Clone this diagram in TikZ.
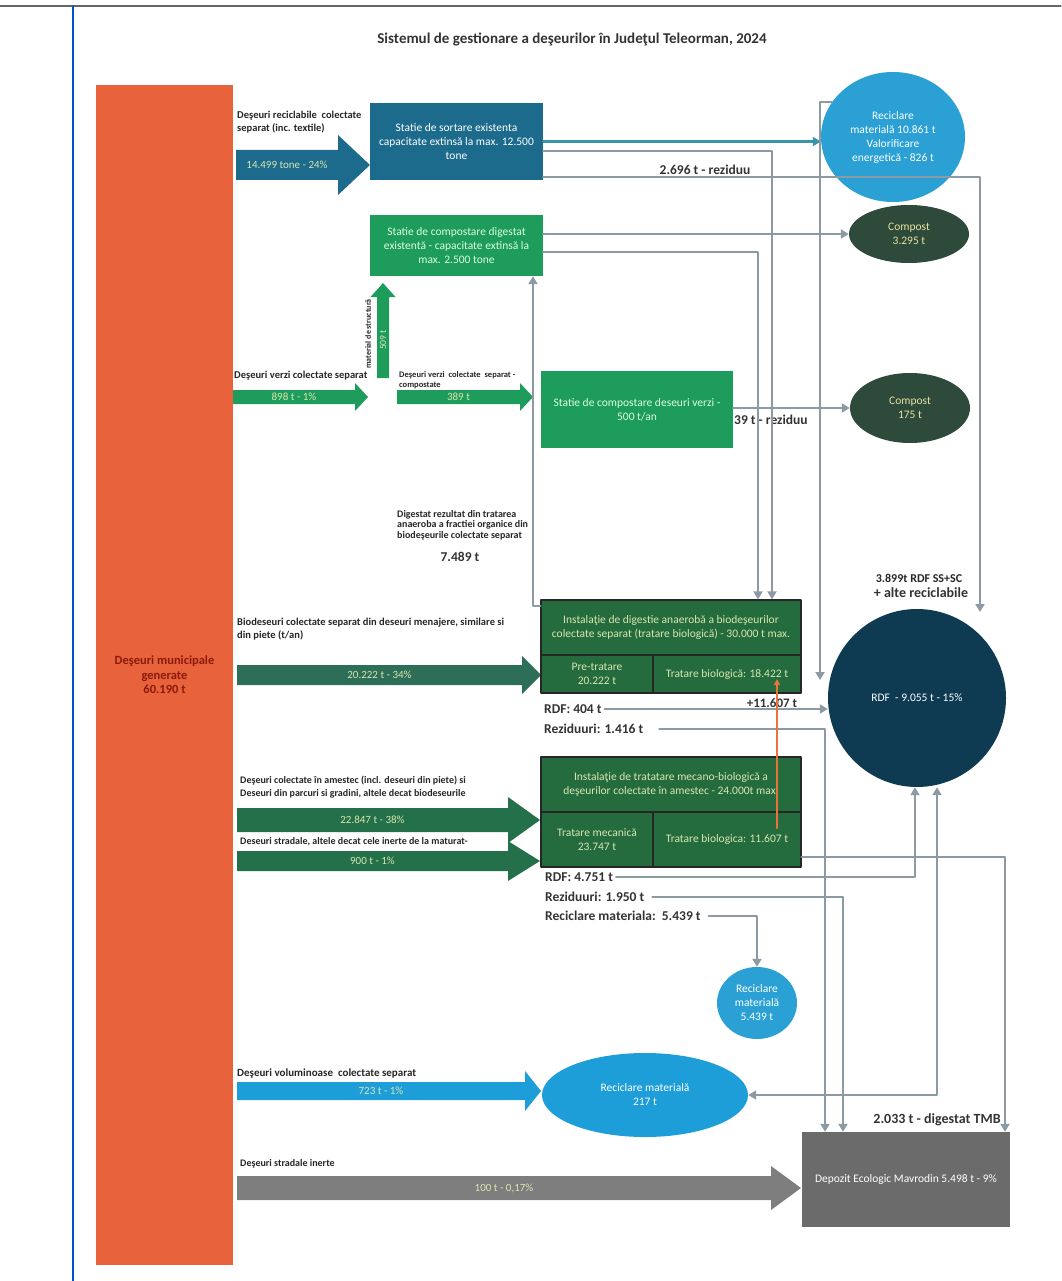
\documentclass[tikz,border=0pt]{standalone}
\usepackage{fontspec}
\setmainfont{Carlito}
\usetikzlibrary{arrows.meta,positioning,shapes.geometric}
\definecolor{munred}{HTML}{E8623C}
\definecolor{muntext}{HTML}{8A1B0B}
\definecolor{sortblue}{HTML}{1C6A8C}
\definecolor{recblue}{HTML}{2AA0D5}
\definecolor{compgreen}{HTML}{1E9C5C}
\definecolor{compdark}{HTML}{2E4A3A}
\definecolor{instgreen}{HTML}{246B3E}
\definecolor{biogreen}{HTML}{2C6E57}
\definecolor{mixgreen}{HTML}{23704A}
\definecolor{rdfnavy}{HTML}{0E3B52}
\definecolor{volblue}{HTML}{1E9ED8}
\definecolor{inertgray}{HTML}{7E7E7E}
\definecolor{depgray}{HTML}{6B6B6B}
\definecolor{linegray}{HTML}{8C9BA3}
\definecolor{tealline}{HTML}{3B94A8}
\definecolor{orangeline}{HTML}{E8743A}
\definecolor{paletext}{HTML}{D8E6B0}
\definecolor{comptext}{HTML}{E8E2A0}
\tikzset{
  lbl/.style={font=\bfseries\fontsize{10.5}{13}\selectfont,text=black!85,inner sep=0,align=left},
  big/.style={font=\bfseries\fontsize{13.5}{15}\selectfont,text=black!80,inner sep=0},
  boxtxt/.style={font=\fontsize{11.5}{14}\selectfont,align=center,inner sep=0},
  arrowtxt/.style={font=\fontsize{11}{12}\selectfont,text=paletext,inner sep=0},
  flow/.style={draw=linegray,line width=2.6pt,-{Triangle[length=8pt,width=9pt]}},
  cell/.style={boxtxt,draw=black!85,line width=1.2pt,fill=instgreen,text=paletext}
}
\newcommand{\bigarrow}[9]{%
  \fill[#8] (#2,#4-#5) -- (#3-#7,#4-#5) -- (#3-#7,#4-#6) -- (#3,#4) -- (#3-#7,#4+#6) -- (#3-#7,#4+#5) -- (#2,#4+#5) -- cycle;
  \node[arrowtxt] (#1) at ({(#2+#3-#7)/2},#4) {#9};}
\begin{document}
\begin{tikzpicture}[x=1pt,y=-1pt,line cap=round,line join=round]
  \useasboundingbox (0,0) rectangle (1061,1281);
  \draw[black!60,line width=1.2pt] (0,6) -- (1061,6);
  \draw[blue!60!cyan!80!black,line width=1.5pt] (73,6) -- (73,1281);
  \node[font=\bfseries\fontsize{15}{17}\selectfont,text=black!80] (title) at (572,40) {Sistemul de gestionare a deşeurilor în Judeţul Teleorman, 2024};

  \node[fill=munred,minimum width=137pt,minimum height=1180pt,inner sep=0] (mun) at (164.5,675) {};
  \node[font=\bfseries\fontsize{12.5}{14.5}\selectfont,text=muntext,align=center] (muntxt) at (mun) {Deşeuri municipale\\generate\\60.190 t};

  % colectare
  \node[lbl,anchor=north west] (l1) at (237,111) {Deşeuri reciclabile\ \ colectate\\separat (inc. textile)};
  \bigarrow{a1}{236}{370}{165}{15}{30}{32}{sortblue}{14.499 tone - 24\%}
  \node[lbl,anchor=west] (l2) at (234,376) {Deşeuri verzi colectate separat};
  \bigarrow{a2}{233}{368}{397}{7}{14}{13}{compgreen}{898 t - 1\%}
  \node[lbl,anchor=north west,font=\bfseries\fontsize{8.5}{10}\selectfont] (l3) at (399,371) {Deşeuri verzi\ \ colectate\ \ separat -\\compostate};
  \bigarrow{a3}{397}{533}{397}{7}{14}{13}{compgreen}{389 t}
  \fill[compgreen] (377,378) -- (377,297) -- (370.5,297) -- (383,283) -- (395.5,297) -- (389,297) -- (389,378) -- cycle;
  \node[arrowtxt,rotate=90,font=\fontsize{9.5}{10}\selectfont] (a9) at (383,340) {509 t};
  \node[lbl,rotate=90,font=\bfseries\fontsize{8}{9}\selectfont] (lstr) at (368,334) {material de structură};
  \node[lbl,anchor=north west] (l4) at (237,618) {Biodeseuri colectate separat din deseuri menajere, similare si\\din piete (t/an)};
  \bigarrow{a4}{237}{541}{675}{10}{19}{19}{biogreen}{20.222 t - 34\%}
  \node[lbl,anchor=north west,font=\bfseries\fontsize{10}{13}\selectfont] (l5) at (240,776) {Deşeuri colectate în amestec (incl. deseuri din piete) si\\Deseuri din parcuri si gradini, altele decat biodeseurile};
  \bigarrow{a5}{237}{540}{820}{12}{23}{32}{mixgreen}{22.847 t - 38\%}
  \node[lbl,anchor=west,font=\bfseries\fontsize{10}{12}\selectfont] (l6) at (240,842) {Deseuri stradale, altele decat cele inerte de la maturat-};
  \bigarrow{a6}{237}{540}{861}{10}{20}{32}{mixgreen}{900 t - 1\%}
  \node[lbl,anchor=west,font=\bfseries\fontsize{11}{13}\selectfont] (l7) at (237,1074) {Deşeuri voluminoase\ \ colectate separat};
  \bigarrow{a7}{237}{541}{1091}{9}{20}{16}{volblue}{723 t - 1\%}
  \node[lbl,anchor=west,font=\bfseries\fontsize{10}{12}\selectfont] (l8) at (240,1164) {Deşeuri stradale inerte};
  \bigarrow{a8}{237}{801}{1188}{12}{22}{30}{inertgray}{100 t - 0,17\%}

  % instalatii
  \node[boxtxt,fill=sortblue,text=white,minimum width=173pt,minimum height=77pt] (sort) at (456.5,141.5) {Statie de sortare existenta\\capacitate extinsă la max. 12.500\\tone};
  \node[boxtxt,fill=compgreen,text=white!85!green,minimum width=173pt,minimum height=61pt] (cdig) at (456.5,245.5) {Statie de compostare digestat\\existentă - capacitate extinsă la\\max. 2.500 tone};
  \node[boxtxt,fill=compgreen,text=white!85!green,minimum width=192pt,minimum height=77pt] (cver) at (637,409.5) {Statie de compostare deseuri verzi -\\500 t/an};
  \node[cell,minimum width=260pt,minimum height=55pt] (dtop) at (671,627.5) {Instalaţie de digestie anaerobă a biodeşeurilor\\colectate separat (tratare biologică) - 30.000 t max.};
  \node[cell,minimum width=112pt,minimum height=38pt] (dpre) at (597,674) {Pre-tratare\\20.222 t};
  \node[cell,minimum width=148pt,minimum height=38pt] (dbio) at (727,674) {Tratare biologică: 18.422 t};
  \node[cell,minimum width=260pt,minimum height=55pt] (ttop) at (671,784.5) {Instalaţie de tratatare mecano-biologică a\\deşeurilor colectate în amestec - 24.000t max.};
  \node[cell,minimum width=112pt,minimum height=55pt] (tmec) at (597,839.5) {Tratare mecanică\\23.747 t};
  \node[cell,minimum width=148pt,minimum height=55pt] (tbio) at (727,839.5) {Tratare biologica: 11.607 t};
  \node[boxtxt,fill=depgray,text=white!90,minimum width=208pt,minimum height=95pt] (dep) at (906,1179.5) {Depozit Ecologic Mavrodin 5.498 t - 9\%};

  % rezultate
  \node[ellipse,boxtxt,fill=recblue,text=white,minimum width=144pt,minimum height=130pt] (rec) at (893,137) {Reciclare\\materială 10.861 t\\Valorificare\\energetică - 826 t};
  \node[ellipse,boxtxt,fill=compdark,text=comptext,minimum width=120pt,minimum height=58pt] (comp1) at (909,234) {Compost\\3.295 t};
  \node[ellipse,boxtxt,fill=compdark,text=comptext,minimum width=120pt,minimum height=70pt] (comp2) at (910,408) {Compost\\175 t};
  \node[circle,boxtxt,fill=rdfnavy,text=white!85,minimum size=178pt] (rdf) at (917,698) {RDF\ \ - 9.055 t - 15\%};
  \node[ellipse,boxtxt,fill=recblue,text=white!90,minimum width=80pt,minimum height=72pt] (rec3) at (757,1003) {Reciclare\\materială\\5.439 t};
  \node[ellipse,boxtxt,fill=volblue,text=white!90,minimum width=206pt,minimum height=84pt] (rec4) at (645,1095) {Reciclare materială\\217 t};

  % etichete
  \node[big] (res1) at (705,170) {2.696 t - reziduu};
  \node[big,anchor=west] (res2) at (734,420) {39 t - reziduu};
  \node[lbl,anchor=north west,font=\bfseries\fontsize{10}{10.5}\selectfont] (ldig) at (397,510) {Digestat rezultat din tratarea\\anaeroba a fractiei organice din\\biodeşeurile colectate separat};
  \node[big] (ldig2) at (460,557) {7.489 t};
  \node[big,anchor=west] (rdf1) at (544,709) {RDF: 404 t};
  \node[big,anchor=west] (rez1) at (544,729) {Reziduuri: 1.416 t};
  \node[big,font=\bfseries\fontsize{13}{15}\selectfont] (plus) at (772,703) {+11.607 t};
  \node[lbl,font=\bfseries\fontsize{12}{14}\selectfont] (rdfss) at (919,578) {3.899t RDF SS+SC};
  \node[big,font=\bfseries\fontsize{14}{16}\selectfont] (alte) at (921,593) {+ alte reciclabile};
  \node[big,anchor=west] (rdf2) at (545,877) {RDF: 4.751 t};
  \node[big,anchor=west] (rez2) at (545,897) {Reziduuri: 1.950 t};
  \node[big,anchor=west] (recm) at (545,916) {Reciclare materiala:\ \ 5.439 t};
  \node[big,font=\bfseries\fontsize{14}{16}\selectfont] (tmb) at (937,1120) {2.033 t - digestat TMB};

  % conexiuni
  \draw[flow,draw=tealline] (sort.east) -- (sort.east -| rec.west);
  \draw[flow] (sort.east |- 0,151) -| (dtop.north -| 772,0);
  \draw[flow] (sort.east |- 0,177) -| (980,612);
  \draw[flow] (rec.150) -| (820,680);
  \draw[flow] (cdig.east |- comp1) -- (comp1.west);
  \draw[flow] (cdig.east |- 0,252) -| (dtop.north -| 758,0);
  \draw[flow] (dtop.west |- 0,606) -| (cdig.south -| 533,0);
  \draw[flow] (cver.east |- comp2) -- (comp2.west);
  \draw[flow] ([xshift=3pt]rdf1.east) -- (rdf1.east -| rdf.west);
  \draw[flow] ([xshift=16pt]rez1.east) -| (dep.north -| 825,0);
  \draw[orangeline,line width=2pt,-{Triangle[length=6pt,width=6pt]}] (777,828) -- (777,679);
  \draw[flow] ([xshift=3pt]rdf2.east) -| (rdf.south -| 915,0);
  \draw[flow] ([xshift=8pt]rez2.east) -| (dep.north -| 843,0);
  \draw[flow] ([xshift=8pt]recm.east) -| (rec3.north);
  \draw[flow] (tbio.east |- 0,857) -| (dep.north -| 1005,0);
  \draw[flow,{Triangle[length=8pt,width=9pt]}-{Triangle[length=8pt,width=9pt]}] (rec4.east) -| (rdf.south -| 937,0);
\end{tikzpicture}
\end{document}
